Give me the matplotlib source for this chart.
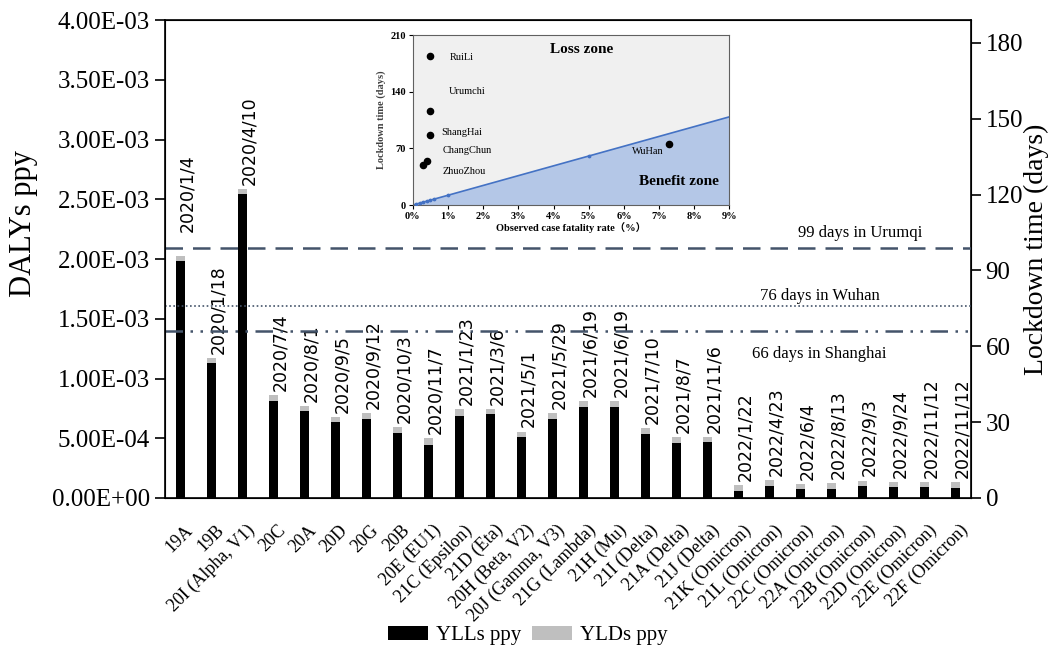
import matplotlib
matplotlib.use("Agg")
import matplotlib.pyplot as plt
import matplotlib.transforms as mtransforms
from matplotlib.ticker import FuncFormatter, MultipleLocator, FixedLocator

# variants on the x axis
variants = ["19A", "19B", "20I (Alpha, V1)", "20C", "20A", "20D", "20G", "20B",
            "20E (EU1)", "21C (Epsilon)", "21D (Eta)", "20H (Beta, V2)",
            "20J (Gamma, V3)", "21G (Lambda)", "21H (Mu)", "21I (Delta)",
            "21A (Delta)", "21J (Delta)", "21K (Omicron)", "21L (Omicron)",
            "22C (Omicron)", "22A (Omicron)", "22B (Omicron)", "22D (Omicron)",
            "22E (Omicron)", "22F (Omicron)"]
dates = ["2020/1/4", "2020/1/18", "2020/4/10", "2020/7/4", "2020/8/1", "2020/9/5",
         "2020/9/12", "2020/10/3", "2020/11/7", "2021/1/23", "2021/3/6", "2021/5/1",
         "2021/5/29", "2021/6/19", "2021/6/19", "2021/7/10", "2021/8/7", "2021/11/6",
         "2022/1/22", "2022/4/23", "2022/6/4", "2022/8/13", "2022/9/3", "2022/9/24",
         "2022/11/12", "2022/11/12"]
ylls = [1.986e-3, 1.130e-3, 2.544e-3, 8.14e-4, 7.28e-4, 6.33e-4, 6.64e-4, 5.41e-4,
        4.46e-4, 6.89e-4, 7.03e-4, 5.08e-4, 6.64e-4, 7.64e-4, 7.64e-4, 5.38e-4,
        4.63e-4, 4.69e-4, 6.1e-5, 1.0e-4, 7.3e-5, 7.8e-5, 1.0e-4, 9.0e-5, 9.0e-5, 8.4e-5]
ylds = [4.0e-5, 4.2e-5, 4.2e-5, 4.8e-5, 4.2e-5, 4.7e-5, 4.5e-5, 5.1e-5,
        5.4e-5, 5.3e-5, 4.2e-5, 4.7e-5, 4.5e-5, 4.8e-5, 4.8e-5, 4.5e-5,
        5.0e-5, 4.4e-5, 4.5e-5, 5.1e-5, 4.2e-5, 5.0e-5, 4.5e-5, 4.6e-5, 4.6e-5, 5.0e-5]

# lockdown reference lines (days)
lockdown_days = [99, 76, 66]
lockdown_text = ["99 days in Urumqi", "76 days in Wuhan", "66 days in Shanghai"]

# inset: cities
cities = ["RuiLi", "Urumchi", "ShangHai", "ChangChun", "ZhuoZhou", "WuHan"]
city_cfr = [0.49, 0.49, 0.49, 0.40, 0.30, 7.28]
city_days = [184, 116, 86, 55, 49, 76]
boundary_cfr = [0, 9]
boundary_days = [0, 109]
boundary_pts_cfr = [0.1, 0.2, 0.3, 0.4, 0.5, 0.6, 1.0, 5.0]
boundary_pts_days = [1.2, 2.4, 3.6, 4.8, 6.0, 7.3, 12.1, 60.5]

SERIF = "Liberation Serif"
plt.rcParams["font.family"] = SERIF
LINE_COL = "#44546a"

fig = plt.figure(figsize=(10.56, 6.48), dpi=100)
ax = fig.add_axes([0.156, 0.2315, 0.7635, 0.7375])
x = list(range(len(variants)))

ax.bar(x, ylls, width=0.3, color="black", label="YLLs ppy", zorder=3)
ax.bar(x, ylds, width=0.3, bottom=ylls, color="#bfbfbf", label="YLDs ppy", zorder=3)

for i, d in enumerate(dates):
    top = ylls[i] + ylds[i]
    pad = 2.0e-4 if i == 0 else 3.5e-5
    ax.text(i + 0.22, top + pad, d, rotation=90, ha="center", va="bottom",
            fontsize=12.5, family="DejaVu Sans", zorder=4)

ax.set_xlim(-0.5, len(variants) - 0.5)
ax.set_ylim(0, 4e-3)
ax.yaxis.set_major_locator(MultipleLocator(5e-4))
ax.yaxis.set_major_formatter(FuncFormatter(lambda v, p: "{:.2E}".format(v)))
ax.set_xticks(x)
ax.set_xticklabels(variants, rotation=45, ha="right", rotation_mode="anchor", fontsize=13)
ax.tick_params(axis="x", length=0, pad=17)
shift = mtransforms.ScaledTranslation(0.04, 0, fig.dpi_scale_trans)
for lab in ax.get_xticklabels():
    lab.set_transform(lab.get_transform() + shift)
ax.tick_params(axis="y", labelsize=18, length=7, width=1.2)
ax.set_ylabel("DALYs ppy", fontsize=22)
ax.yaxis.set_label_coords(-0.157, 0.575)
for s in ax.spines.values():
    s.set_linewidth(1.2)

ax2 = ax.twinx()
ax2.set_ylim(0, 189)
ax2.yaxis.set_major_locator(FixedLocator([0, 30, 60, 90, 120, 150, 180]))
ax2.tick_params(axis="y", labelsize=18, length=7, width=1.2)
ax2.set_ylabel("Lockdown time (days)", fontsize=20)
ax2.yaxis.set_label_coords(1.066, 0.52)

styles = [(0, (7, 4)), (0, (1, 1.5)), (0, (7, 3, 1, 3, 1, 3))]
widths = [1.8, 1.2, 1.8]
for d, ls, lw in zip(lockdown_days, styles, widths):
    ax2.axhline(d, color=LINE_COL, linestyle=ls, linewidth=lw, zorder=2)
ax2.text(19.92, 104.7, lockdown_text[0], fontsize=12, va="center")
ax2.text(18.69, 79.8, lockdown_text[1], fontsize=12, va="center")
ax2.text(18.44, 57.0, lockdown_text[2], fontsize=12, va="center")

fig.legend(loc="lower center", bbox_to_anchor=(0.5, -0.025), ncol=2, frameon=False,
           fontsize=15, handlelength=1.9, handleheight=0.65, columnspacing=0.5,
           handletextpad=0.4)

# inset
ins = fig.add_axes([0.391, 0.6836, 0.2998, 0.2623])
ins.set_facecolor("#f0f0f0")
ins.fill_between(boundary_cfr, boundary_days, 0, color="#b4c7e7", zorder=1)
ins.plot(boundary_cfr, boundary_days, color="#4472c4", linewidth=1.2, zorder=2)
ins.scatter(boundary_pts_cfr, boundary_pts_days, s=3, color="#4472c4", zorder=3)
ins.scatter(city_cfr, city_days, s=20, color="black", zorder=4)
label_pos = [(1.04, 182), (1.02, 140), (0.81, 89), (0.85, 67), (0.85, 41), (6.22, 66)]
for name, (lx, ly) in zip(cities, label_pos):
    ins.text(lx, ly, name, fontsize=7.5, va="center", ha="left")
ins.text(4.8, 192, "Loss zone", fontsize=11, fontweight="bold", ha="center", va="center")
ins.text(6.44, 29, "Benefit zone", fontsize=11, fontweight="bold", ha="left", va="center")
ins.set_xlim(0, 9)
ins.set_ylim(0, 210)
ins.set_xticks([0, 1, 2, 3, 4, 5, 6, 7, 8, 9])
ins.set_xticklabels([f"{v}%" for v in range(10)])
ins.set_yticks([0, 70, 140, 210])
ins.tick_params(labelsize=7.5, length=3, width=0.8, pad=2)
for lab in ins.get_xticklabels() + ins.get_yticklabels():
    lab.set_fontweight("bold")
ins.set_ylabel("Lockdown time (days)", fontsize=7.5, fontweight="bold", color="#404040", labelpad=3)
ins.set_xlabel("Observed case fatality rate（%）", fontsize=7.5, fontweight="bold",
               family=[SERIF, "Noto Sans CJK SC"], labelpad=1)
for s in ins.spines.values():
    s.set_color("#606060")
    s.set_linewidth(0.8)

fig.savefig("out.png", dpi=100)
